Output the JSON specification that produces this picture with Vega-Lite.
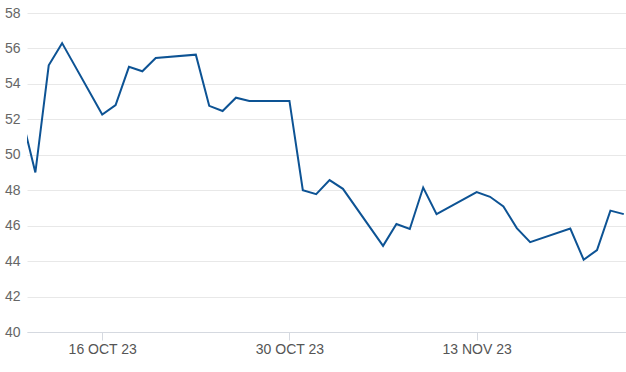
{
  "$schema": "https://vega.github.io/schema/vega-lite/v6.json",
  "width": 599,
  "height": 319,
  "autosize": {"type": "none"},
  "padding": {"left": 27, "top": 13, "right": 0, "bottom": 40},
  "background": "white",
  "config": {"view": {"stroke": null}, "font": "Liberation Sans"},
  "data": {
    "values": [
      {"date": "2023-10-10", "value": 52.1},
      {"date": "2023-10-11", "value": 49.0},
      {"date": "2023-10-12", "value": 55.05},
      {"date": "2023-10-13", "value": 56.3},
      {"date": "2023-10-16", "value": 52.27},
      {"date": "2023-10-17", "value": 52.8},
      {"date": "2023-10-18", "value": 54.96},
      {"date": "2023-10-19", "value": 54.71},
      {"date": "2023-10-20", "value": 55.46},
      {"date": "2023-10-23", "value": 55.65},
      {"date": "2023-10-24", "value": 52.76},
      {"date": "2023-10-25", "value": 52.47},
      {"date": "2023-10-26", "value": 53.22},
      {"date": "2023-10-27", "value": 53.04},
      {"date": "2023-10-30", "value": 53.04},
      {"date": "2023-10-31", "value": 48.0},
      {"date": "2023-11-01", "value": 47.78},
      {"date": "2023-11-02", "value": 48.57},
      {"date": "2023-11-03", "value": 48.08},
      {"date": "2023-11-06", "value": 44.86},
      {"date": "2023-11-07", "value": 46.09},
      {"date": "2023-11-08", "value": 45.81},
      {"date": "2023-11-09", "value": 48.15},
      {"date": "2023-11-10", "value": 46.65},
      {"date": "2023-11-13", "value": 47.89},
      {"date": "2023-11-14", "value": 47.63},
      {"date": "2023-11-15", "value": 47.08},
      {"date": "2023-11-16", "value": 45.86},
      {"date": "2023-11-17", "value": 45.07},
      {"date": "2023-11-20", "value": 45.84},
      {"date": "2023-11-21", "value": 44.08},
      {"date": "2023-11-22", "value": 44.62},
      {"date": "2023-11-23", "value": 46.85},
      {"date": "2023-11-24", "value": 46.65}
    ]
  },
  "mark": {"type": "line", "color": "#0d5394", "strokeWidth": 2, "clip": true, "strokeJoin": "miter"},
  "encoding": {
    "x": {
      "field": "date",
      "type": "temporal",
      "scale": {
        "type": "utc",
        "domain": [
          {"year": 2023, "month": 10, "date": 10, "hours": 9, "utc": true},
          {"year": 2023, "month": 11, "date": 24, "hours": 4, "utc": true}
        ]
      },
      "axis": {
        "title": null,
        "grid": false,
        "values": [
          {"year": 2023, "month": 10, "date": 16, "utc": true},
          {"year": 2023, "month": 10, "date": 30, "utc": true},
          {"year": 2023, "month": 11, "date": 13, "utc": true}
        ],
        "labelExpr": "upper(utcFormat(datum.value, '%d %b %y'))",
        "labelFontSize": 14,
        "labelColor": "#555555",
        "labelPadding": 2,
        "tickSize": 8,
        "tickColor": "#d5d9e0",
        "domainColor": "#d5d9e0",
        "labelFlush": false
      }
    },
    "y": {
      "field": "value",
      "type": "quantitative",
      "scale": {"domain": [40, 58], "nice": false, "zero": false},
      "axis": {
        "title": null,
        "values": [40, 42, 44, 46, 48, 50, 52, 54, 56, 58],
        "domain": false,
        "ticks": false,
        "tickSize": 0,
        "labelPadding": 7,
        "labelFontSize": 14,
        "labelColor": "#666666",
        "gridColor": "#e8e8e8",
        "gridWidth": 1
      }
    }
  }
}
